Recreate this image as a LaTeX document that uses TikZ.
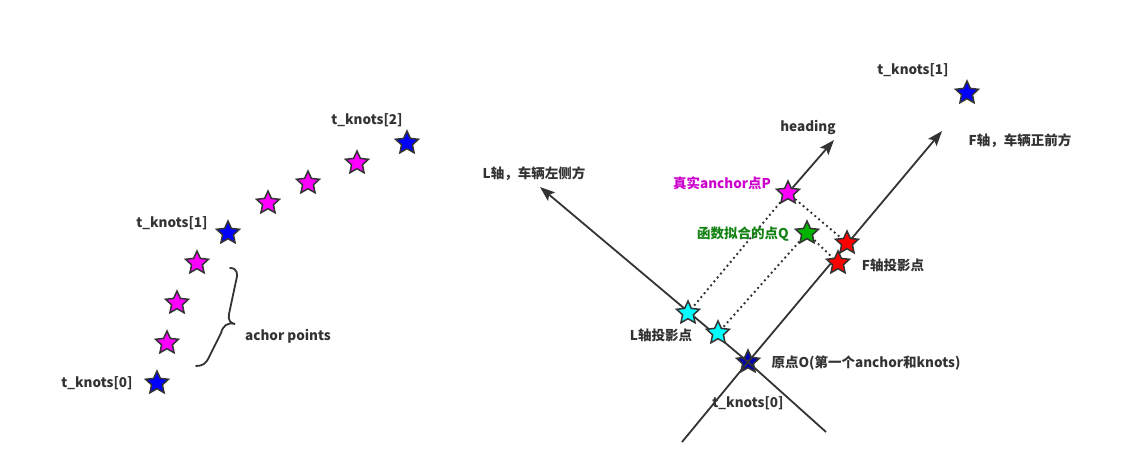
\documentclass[tikz,border=0pt]{standalone}
\usepackage{fontspec}
\setmainfont{Noto Sans CJK SC}
\usetikzlibrary{shapes.geometric,arrows.meta}
\definecolor{dg}{RGB}{51,51,51}
\definecolor{mg}{RGB}{255,0,255}
\definecolor{bl}{RGB}{0,0,255}
\definecolor{gr}{RGB}{0,180,0}
\definecolor{rd}{RGB}{255,0,0}
\definecolor{cy}{RGB}{0,255,255}
\definecolor{mgtext}{RGB}{204,0,204}
\definecolor{grtext}{RGB}{20,130,20}
\tikzset{
  starnode/.style={star, star points=5, star point ratio=2.1, minimum size=24pt, inner sep=0pt, draw=dg, line width=1.5pt, fill=#1},
  lbl/.style={text=dg, font=\bfseries\fontsize{13.5pt}{15pt}\selectfont, inner sep=0pt},
  axis/.style={draw=dg, line width=1.8pt},
  arr/.style={axis, -{Stealth[length=15pt,width=11pt,inset=3pt]}},
  dots/.style={draw=dg, line width=1.9pt, dash pattern=on 1.9pt off 3.2pt},
}
\begin{document}
\begin{tikzpicture}[x=1pt,y=-1pt]
\useasboundingbox (0,0) rectangle (1130,475);
% ---------- left part ----------
\node[starnode=bl] (k0) at (157,383) {};
\node[starnode=mg] (a1) at (167,343) {};
\node[starnode=mg] (a2) at (177,303) {};
\node[starnode=mg] (a3) at (197,263) {};
\node[starnode=bl] (k1) at (228,233) {};
\node[starnode=mg] (a4) at (268,203) {};
\node[starnode=mg] (a5) at (308,183) {};
\node[starnode=mg] (a6) at (357,163) {};
\node[starnode=bl] (k2) at (407,143) {};
\node[lbl] (tk0) at (97,383) {t\_knots[0]};
\node[lbl] (tk1) at (172,223) {t\_knots[1]};
\node[lbl] (tk2) at (367,120) {t\_knots[2]};
\node[lbl] (ap) at (288,336) {achor points};
\draw[dg, line width=1.8pt, line cap=round]
  (230,268) .. controls (238,268) and (238,275) .. (236,281) -- (229,314)
  .. controls (228,320) and (230,323) .. (235,324)
  .. controls (227,322) and (223,326) .. (221,333) -- (209,357)
  .. controls (206,364) and (202,366) .. (196,366);
% ---------- right part ----------
\node[starnode=bl!70!black] (O) at (748,362) {};
\coordinate (Fs) at (682,442);
\coordinate (Fe) at (942,131);
\coordinate (Ls) at (826,432);
\coordinate (Le) at (540,187);
\draw[axis] (Fs) -- (O.center);
\draw[arr] (O.center) -- (Fe);
\draw[axis] (Ls) -- (O.center);
\draw[arr] (O.center) -- (Le);
\node[starnode=cy] (L1) at (688,313) {};
\node[starnode=cy] (L2) at (718,333) {};
\node[starnode=rd] (F1) at (847,243) {};
\node[starnode=rd] (F2) at (838,263) {};
\node[starnode=mg] (P) at (788,193) {};
\node[starnode=gr] (Q) at (807,233) {};
\node[starnode=bl] (k1r) at (967,93) {};
\coordinate (He) at (834,140);
\draw[arr] (P) -- (He);
\draw[dots] (P) -- (L1);
\draw[dots] (P) -- (F1);
\draw[dots] (Q) -- (L2);
\draw[dots] (Q) -- (F2);
\node[lbl] (hd) at (808,127) {heading};
\node[lbl] (tk1r) at (913,70) {t\_knots[1]};
\node[lbl] (Fax) at (1020,141) {F轴，车辆正前方};
\node[lbl] (Lax) at (534,174) {L轴，车辆左侧方};
\node[lbl, text=mgtext] (Pl) at (722,183) {真实anchor点P};
\node[lbl, text=grtext] (Ql) at (743,234) {函数拟合的点Q};
\node[lbl] (Fp) at (893,265) {F轴投影点};
\node[lbl] (Lp) at (661,335) {L轴投影点};
\node[lbl] (Ol) at (866,363) {原点O(第一个anchor和knots)};
\node[lbl] (tk0r) at (748,403) {t\_knots[0]};
\end{tikzpicture}
\end{document}
